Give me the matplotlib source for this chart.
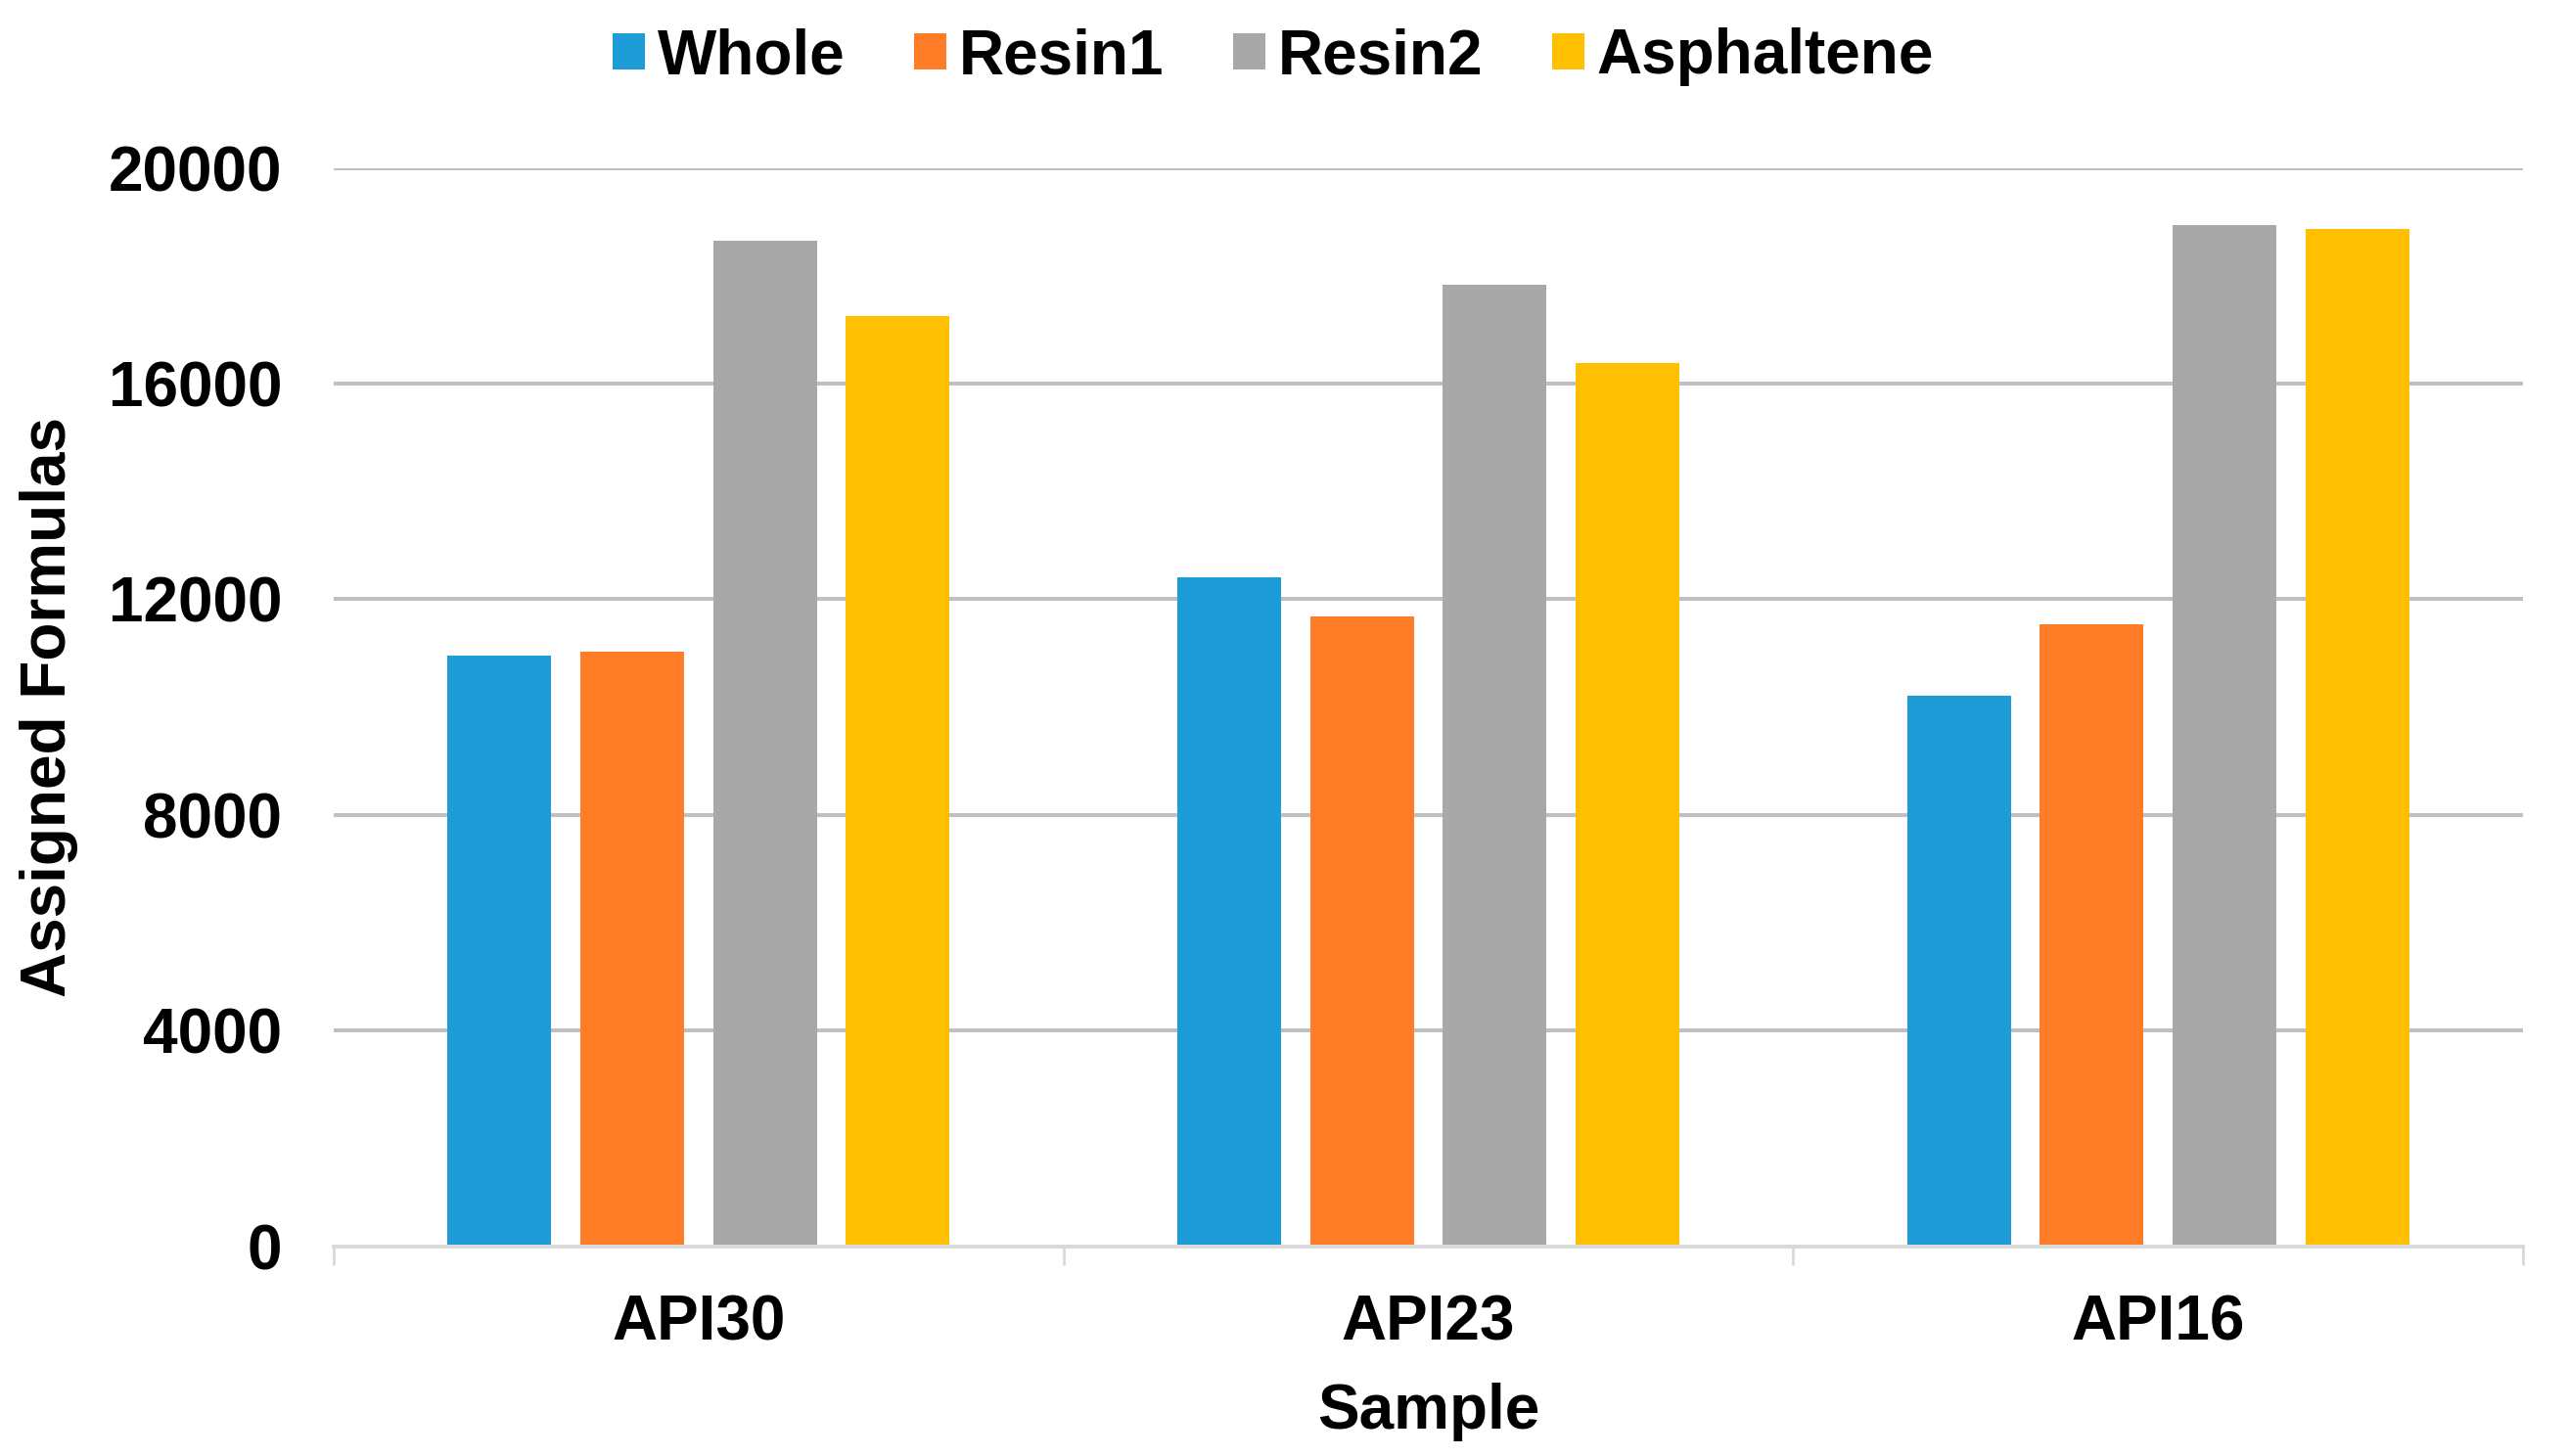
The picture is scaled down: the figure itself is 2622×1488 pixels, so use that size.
import matplotlib
matplotlib.use("Agg")
import matplotlib.pyplot as plt
import numpy as np

samples = ["API30", "API23", "API16"]
series_names = ["Whole", "Resin1", "Resin2", "Asphaltene"]
whole = [10950, 12400, 10200]
resin1 = [11020, 11680, 11530]
resin2 = [18640, 17840, 18940]
asphaltene = [17250, 16380, 18860]
colors = ["#1E9CD7", "#FE7D26", "#A8A8A8", "#FEC000"]
yticks = [0, 4000, 8000, 12000, 16000, 20000]

plt.rcParams['font.family'] = ['Liberation Sans', 'DejaVu Sans']
plt.rcParams['font.weight'] = 'bold'

W, H = 2622, 1488
fig = plt.figure(figsize=(W / 100, H / 100), dpi=100)
ax = fig.add_axes([341 / W, 1 - 1273.5 / H, (2578 - 341) / W, (1273.5 - 171.5) / H])

x = np.arange(len(samples))
step = 0.182
width = 0.142
data = [whole, resin1, resin2, asphaltene]
for i, (name, vals, c) in enumerate(zip(series_names, data, colors)):
    ax.bar(x + (i - 1.5) * step, vals, width=width, color=c, label=name, zorder=3)

ax.set_xlim(-0.5, len(samples) - 0.5)
ax.set_ylim(0, 20000)
ax.set_yticks(yticks)
ax.set_yticklabels([str(v) for v in yticks])
ax.yaxis.grid(True, color="#C0C0C0", linewidth=2.9, zorder=0)
ax.set_axisbelow(True)

ax.set_xticks(x)
ax.set_xticklabels(samples)
ax.set_xticks(np.arange(-0.5, len(samples) + 0.5, 1), minor=True)
ax.tick_params(axis='x', which='major', length=0, pad=35, labelsize=46)
ax.tick_params(axis='x', which='minor', length=14, width=2, color="#D9D9D9")
ax.tick_params(axis='y', length=0, pad=38, labelsize=46)

for s in ["top", "right", "left"]:
    ax.spines[s].set_visible(False)
ax.spines["bottom"].set_color("#D9D9D9")
ax.spines["bottom"].set_linewidth(2.9)
ax.spines["bottom"].set_zorder(4)

ax.set_xlabel("Sample", fontsize=46, fontweight='bold', labelpad=22)
ax.set_ylabel("Assigned Formulas", fontsize=46, fontweight='bold')
ax.yaxis.set_label_coords(-(341 - 80) / (2578 - 341), 0.5)

fig.legend(loc='center', bbox_to_anchor=(1301 / W, 1 - 58 / H), ncol=4, frameon=False,
           fontsize=46, handlelength=0.52, handleheight=0.52, handletextpad=0.2,
           columnspacing=1.1, borderpad=0)

fig.savefig("out.png", dpi=100, facecolor="white")
